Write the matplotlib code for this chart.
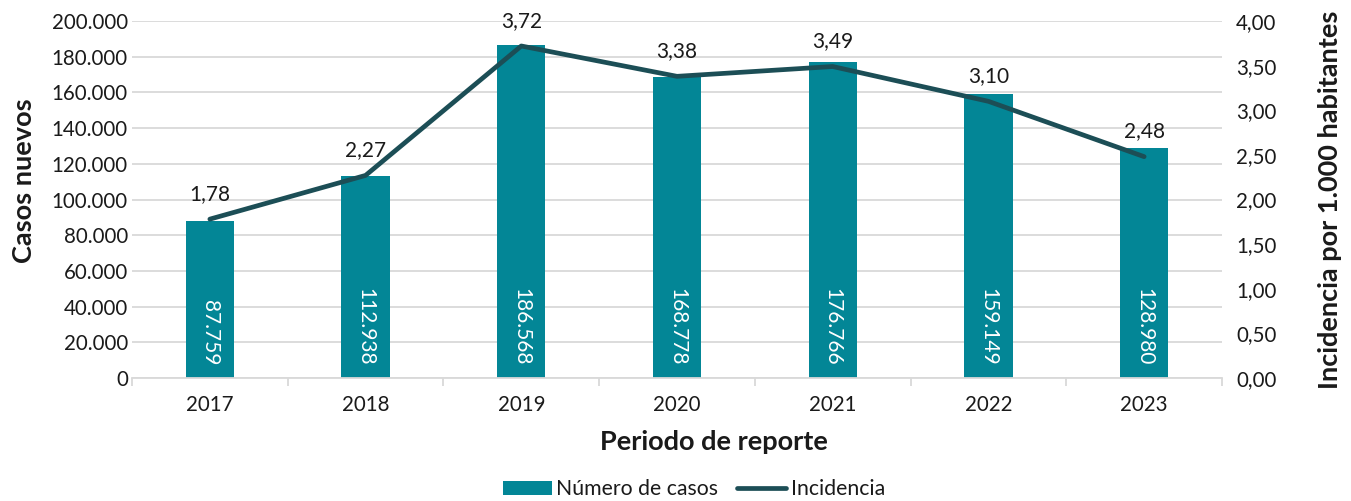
import matplotlib
matplotlib.use("Agg")
import matplotlib.pyplot as plt
from matplotlib.ticker import FuncFormatter, MultipleLocator, FixedLocator
from matplotlib.lines import Line2D
from matplotlib.patches import Patch
import numpy as np

plt.rcParams['font.family'] = ['Lato', 'DejaVu Sans']

years = ["2017", "2018", "2019", "2020", "2021", "2022", "2023"]
casos = [87759, 112938, 186568, 168778, 176766, 159149, 128980]
incidencia = [1.78, 2.27, 3.72, 3.38, 3.49, 3.10, 2.48]

bar_color = "#038696"
line_color = "#1c4e56"
grid_color = "#d9d9d9"
txt = "#1a1a1a"

def miles(v):
    return f"{int(round(v)):,}".replace(",", ".")

def dec2(v):
    return f"{v:.2f}".replace(".", ",")

fs = 14.8
fig = plt.figure(figsize=(13.51, 5.01), dpi=100)
ax = fig.add_axes([132/1351, 1-378/501, (1222-132)/1351, (378-21)/501])
ax2 = ax.twinx()

x = np.arange(len(years))
ax.bar(x, casos, width=0.31, color=bar_color, zorder=2)
ax.set_ylim(0, 200000)
ax.set_xlim(-0.5, len(years)-0.5)
ax.yaxis.set_major_locator(MultipleLocator(20000))
ax.yaxis.set_major_formatter(FuncFormatter(lambda v, p: miles(v)))
ax.grid(axis='y', color=grid_color, linewidth=1.3, zorder=0)
ax.set_axisbelow(True)
ax.set_xticks(x)
ax.set_xticklabels(years)
ax.xaxis.set_minor_locator(FixedLocator(np.arange(-0.5, len(years), 1.0)))
ax.tick_params(axis='x', which='major', length=0, labelsize=fs, colors=txt, pad=12)
ax.tick_params(axis='x', which='minor', length=6, color=grid_color, width=1.3)
ax.tick_params(axis='y', length=0, labelsize=fs, colors=txt, pad=3)
for s in ['top', 'left', 'right']:
    ax.spines[s].set_visible(False)
ax.spines['bottom'].set_color(grid_color)
ax.spines['bottom'].set_linewidth(1.3)

for xi, v in zip(x, casos):
    ax.annotate(miles(v), (xi, 0), xytext=(0, 9), textcoords='offset points',
                rotation=270, ha='center', va='bottom', color='white', fontsize=15, zorder=5)

ax2.plot(x, incidencia, color=line_color, linewidth=3.4, solid_capstyle='round', zorder=4)
ax2.set_ylim(0, 4)
ax2.yaxis.set_major_locator(MultipleLocator(0.5))
ax2.yaxis.set_major_formatter(FuncFormatter(lambda v, p: dec2(v)))
ax2.tick_params(axis='y', length=0, labelsize=fs, colors=txt, pad=10)
for s in ['top', 'left', 'right', 'bottom']:
    ax2.spines[s].set_visible(False)
for xi, v in zip(x, incidencia):
    ax2.annotate(dec2(v), (xi, v), xytext=(0, 11), textcoords='offset points',
                 ha='center', va='bottom', color=txt, fontsize=15)

ax.set_ylabel("Casos nuevos", fontsize=19.5, fontweight='bold', color=txt, labelpad=11)
ax.yaxis.label.set_y((378-181)/357)
ax2.set_ylabel("Incidencia por 1.000 habitantes", fontsize=19.5, fontweight='bold', color=txt,
               rotation=90, labelpad=30)
ax.set_xlabel("Periodo de reporte", fontsize=19.5, fontweight='bold', color=txt, labelpad=11)
ax.xaxis.label.set_x((714-132)/1090)

handles = [Patch(facecolor=bar_color, edgecolor='none'),
           Line2D([0], [0], color=line_color, linewidth=3.4, solid_capstyle='round')]
fig.legend(handles, ["Número de casos", "Incidencia"], loc='lower center',
           bbox_to_anchor=(694/1351, -0.035), ncol=2, frameon=False, fontsize=15.3,
           handlelength=2.3, handletextpad=0.2, columnspacing=0.9, labelcolor=txt)

fig.savefig("out.png", dpi=100)
